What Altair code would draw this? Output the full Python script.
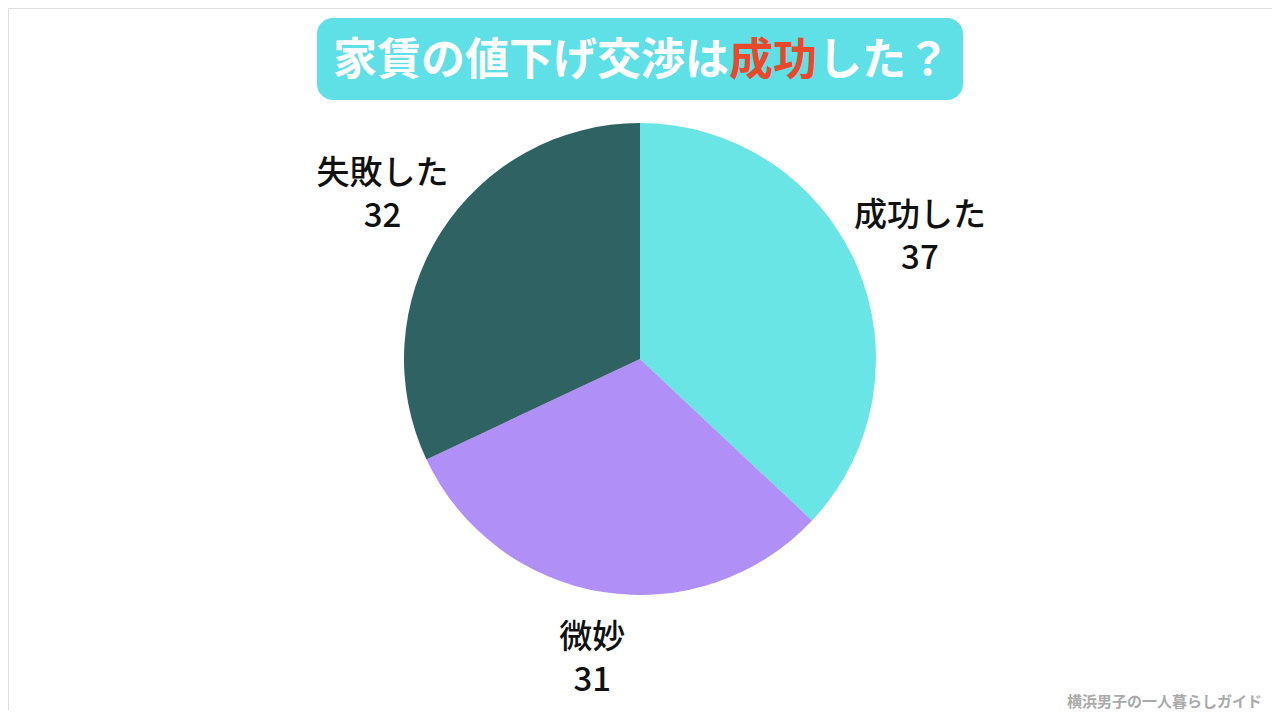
import altair as alt
import pandas as pd

categories = ["成功した", "微妙", "失敗した"]
values = [37, 31, 32]
colors = ["#6ae5e5", "#b08ff6", "#2f6262"]

title_main = "家賃の値下げ交渉は"
title_accent = "成功"
title_tail = "した？"
credit = "横浜男子の一人暮らしガイド"

df = pd.DataFrame({
    "cat": categories,
    "value": values,
    "order": list(range(len(categories))),
    "num": [str(v) for v in values],
})

base = alt.Chart(df).encode(
    theta=alt.Theta("value:Q", stack=True),
    order=alt.Order("order:Q"),
)

pie = base.mark_arc(radius=236, stroke=None).encode(
    color=alt.Color("cat:N", scale=alt.Scale(domain=categories, range=colors), legend=None)
)

label_style = dict(radius=305, fontSize=33, font="Noto Sans CJK JP", fontWeight=500,
                   color="#111111", baseline="middle", align="center")
names = base.mark_text(dy=-22, **label_style).encode(text="cat:N")
nums = base.mark_text(dy=21, **label_style).encode(text="num:N")

one = pd.DataFrame({"a": [0]})
box = alt.Chart(one).mark_rect(color="#5fe0e6", cornerRadius=16).encode(
    x=alt.value(309), x2=alt.value(955), y=alt.value(10), y2=alt.value(92)
)
tstyle = dict(fontSize=44, font="Noto Sans CJK JP", fontWeight="bold", baseline="middle")
t1 = alt.Chart(one).mark_text(text=title_main, color="white", align="right", **tstyle).encode(
    x=alt.value(721), y=alt.value(54))
t2 = alt.Chart(one).mark_text(text=title_accent, color="#e8492a", align="left", **tstyle).encode(
    x=alt.value(721), y=alt.value(54))
t3 = alt.Chart(one).mark_text(text=title_tail, color="white", align="left", **tstyle).encode(
    x=alt.value(810), y=alt.value(54))
cr = alt.Chart(one).mark_text(
    text=credit, fontSize=15, font="Noto Sans CJK JP", fontWeight="bold",
    color="#aaaaaa", align="right", baseline="middle"
).encode(x=alt.value(1254), y=alt.value(694))

chart = alt.layer(pie, names, nums, box, t1, t2, t3, cr).properties(
    width=1264, height=702, padding=0, autosize=alt.AutoSizeParams(type="none")
).configure_view(stroke=None).configure(background="white")

chart.save("out.html", embed_options={"renderer": "svg", "actions": False})
